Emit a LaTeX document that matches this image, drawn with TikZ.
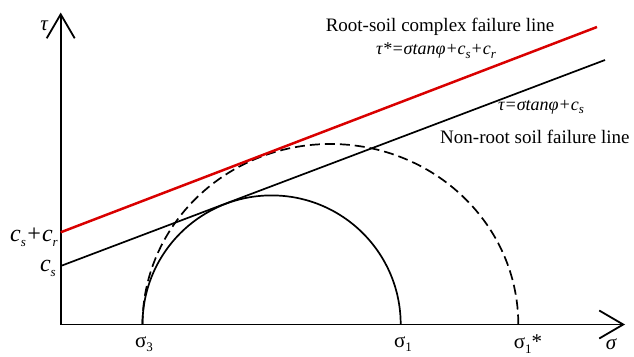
\documentclass[tikz,border=0pt]{standalone}
\usepackage{fontspec}
\setmainfont{Liberation Serif}
\usetikzlibrary{arrows.meta}
\newcommand\sbl[1]{\raisebox{-0.45ex}{\fontsize{13}{14}\selectfont #1}}
\begin{document}
\begin{tikzpicture}[x=1pt,y=-1pt,
  axis/.style={line width=1.8pt,-{Straight Barb[length=24pt,width=28pt,line width=1.8pt]}},
  fline/.style={line width=1.7pt},
  rline/.style={line width=2.5pt,red!85!black},
  circ/.style={line width=1.7pt},
  dcirc/.style={line width=1.7pt,dash pattern=on 10pt off 5pt},
  lab/.style={inner sep=0pt,font=\fontsize{19}{21}\selectfont},
  eq/.style={inner sep=0pt,font=\fontsize{18}{20}\selectfont\itshape},
  ax/.style={inner sep=0pt,font=\fontsize{21}{23}\selectfont}]
\useasboundingbox (0,0) rectangle (634,356);
% axes
\coordinate (O) at (60.7,324.5);
\coordinate (Ytop) at (60.7,12.5);
\coordinate (Xend) at (625,324.5);
\draw[axis] (O) -- (Ytop);
\draw[axis] (O) -- (Xend);
% failure lines
\coordinate (Bs) at (60.7,266);
\coordinate (Be) at (605,60);
\coordinate (Rs) at (60.7,232.3);
\coordinate (Re) at (597,27);
\draw[fline] (Bs) -- (Be);
% circles
\coordinate (S3) at (142.5,324.5);
\coordinate (S1) at (400.7,324.5);
\coordinate (S1s) at (518.3,324.5);
\draw[circ] (S1) arc[start angle=0,end angle=-180,radius=129.1];
\draw[dcirc] (S1s) arc[start angle=0,end angle=-180,x radius=187.9,y radius=180.5];
\draw[rline] (Rs) -- (Re);
% labels
\node[ax,anchor=east] (tau) at (48,26) {\itshape τ};
\node[lab] (rootlab) at (440,27) {Root-soil complex failure line};
\node[eq] (rooteq) at (436,51) {τ*=σtanφ+c\sbl{s}+c\sbl{r}};
\node[eq] (soileq) at (541,107) {τ=σtanφ+c\sbl{s}};
\node[lab,anchor=west] (soillab) at (440,137) {Non-root soil failure line};
\node[ax,anchor=east,font=\fontsize{24}{26}\selectfont\itshape] (csr) at (58,237) {c\sbl{s}+c\sbl{r}};
\node[ax,anchor=east,font=\fontsize{24}{26}\selectfont\itshape] (cs) at (56,268) {c\sbl{s}};
\node[ax] (s3) at (144,344) {σ\sbl{3}};
\node[ax] (s1) at (403,344) {σ\sbl{1}};
\node[ax] (s1s) at (528,344) {σ\sbl{1}*};
\node[ax] (sig) at (611,344) {\itshape σ};
\end{tikzpicture}
\end{document}
